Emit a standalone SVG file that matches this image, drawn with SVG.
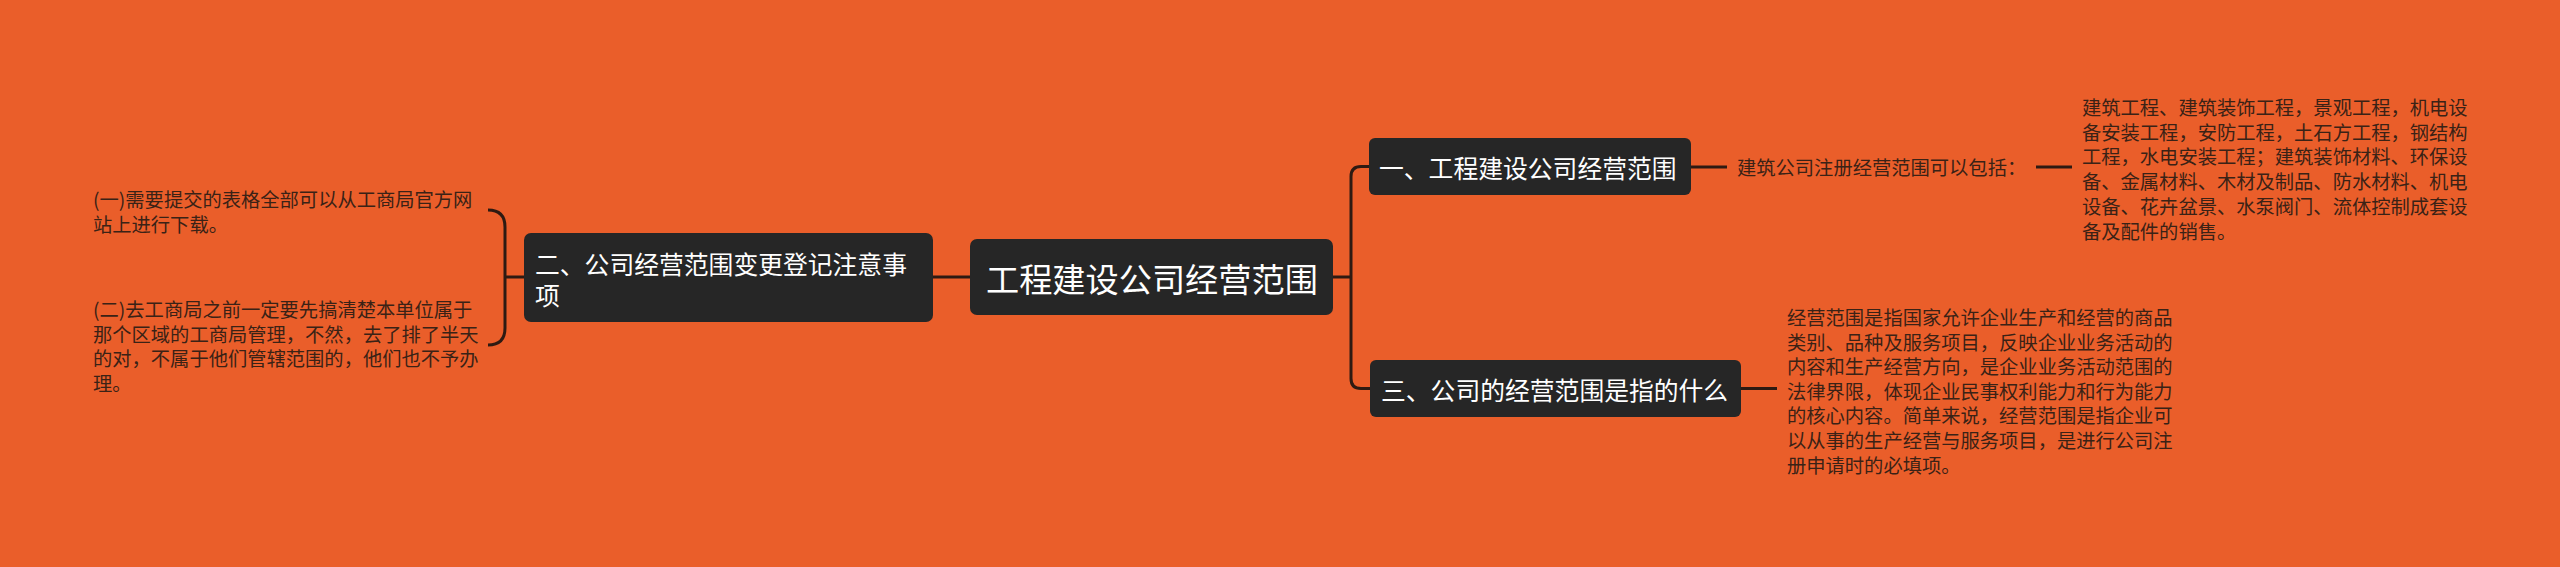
<svg xmlns="http://www.w3.org/2000/svg" width="2560" height="567" viewBox="0 0 2560 567">
<style>
.bg{fill:#EA5E2A}
.node{fill:#262626}
.conn{fill:none;stroke:#2E1A12;stroke-width:3;stroke-linecap:butt}
.root{font-family:"Noto Sans CJK SC","Noto Sans",sans-serif;font-size:33.2px;fill:#FFFFFF}
.br{font-family:"Noto Sans CJK SC","Noto Sans",sans-serif;font-size:24.8px;fill:#FFFFFF}
.leaf{font-family:"Noto Sans CJK SC","Noto Sans",sans-serif;font-size:19.3px;fill:#3A2216}
</style>
<rect class="bg" x="0" y="0" width="2560" height="567"/>
<g id="connectors">
<path class="conn" d="M1333,277 H1351"/>
<path class="conn" d="M1370,166.5 H1361 Q1351,166.5 1351,176.5 V378.5 Q1351,388.5 1361,388.5 H1370"/>
<path class="conn" d="M1691,167 H1727"/>
<path class="conn" d="M2036,167 H2072"/>
<path class="conn" d="M1741,388.5 H1777"/>
<path class="conn" d="M933,277 H970"/>
<path class="conn" d="M505,277 H524"/>
<path class="conn" d="M488,210 Q505,210 505,227 V328 Q505,345 488,345"/>
</g>
<g id="root">
<rect class="node" x="970" y="239" width="363" height="76" rx="7"/>
<text class="root" x="986" y="277.5" dominant-baseline="central">工程建设公司经营范围</text>
</g>
<g id="branch1">
<rect class="node" x="1369" y="138" width="322" height="57" rx="6"/>
<text class="br" x="1379" y="166.5" dominant-baseline="central">一、工程建设公司经营范围</text>
</g>
<g id="branch1-sub">
<text class="leaf" x="1737" y="167" dominant-baseline="central">建筑公司注册经营范围可以包括：</text>
</g>
<g id="branch1-leaf">
<text class="leaf" dominant-baseline="central">
<tspan x="2082" y="107">建筑工程、建筑装饰工程，景观工程，机电设</tspan>
<tspan x="2082" y="131.7">备安装工程，安防工程，土石方工程，钢结构</tspan>
<tspan x="2082" y="156.4">工程，水电安装工程；建筑装饰材料、环保设</tspan>
<tspan x="2082" y="181.1">备、金属材料、木材及制品、防水材料、机电</tspan>
<tspan x="2082" y="205.8">设备、花卉盆景、水泵阀门、流体控制成套设</tspan>
<tspan x="2082" y="230.5">备及配件的销售。</tspan>
</text>
</g>
<g id="branch3">
<rect class="node" x="1370" y="360" width="371" height="57" rx="6"/>
<text class="br" x="1381" y="388.5" dominant-baseline="central">三、公司的经营范围是指的什么</text>
</g>
<g id="branch3-leaf">
<text class="leaf" dominant-baseline="central">
<tspan x="1787" y="317">经营范围是指国家允许企业生产和经营的商品</tspan>
<tspan x="1787" y="341.6">类别、品种及服务项目，反映企业业务活动的</tspan>
<tspan x="1787" y="366.2">内容和生产经营方向，是企业业务活动范围的</tspan>
<tspan x="1787" y="390.8">法律界限，体现企业民事权利能力和行为能力</tspan>
<tspan x="1787" y="415.4">的核心内容。简单来说，经营范围是指企业可</tspan>
<tspan x="1787" y="440">以从事的生产经营与服务项目，是进行公司注</tspan>
<tspan x="1787" y="464.6">册申请时的必填项。</tspan>
</text>
</g>
<g id="branch2">
<rect class="node" x="524" y="233" width="409" height="89" rx="7"/>
<text class="br" dominant-baseline="central">
<tspan x="535" y="263">二、公司经营范围变更登记注意事</tspan>
<tspan x="535" y="294">项</tspan>
</text>
</g>
<g id="branch2-leaf1">
<text class="leaf" dominant-baseline="central">
<tspan x="93" y="199">(一)需要提交的表格全部可以从工商局官方网</tspan>
<tspan x="93" y="223.7">站上进行下载。</tspan>
</text>
</g>
<g id="branch2-leaf2">
<text class="leaf" dominant-baseline="central">
<tspan x="93" y="309">(二)去工商局之前一定要先搞清楚本单位属于</tspan>
<tspan x="93" y="333.7">那个区域的工商局管理，不然，去了排了半天</tspan>
<tspan x="93" y="358.4">的对，不属于他们管辖范围的，他们也不予办</tspan>
<tspan x="93" y="383.1">理。</tspan>
</text>
</g>
</svg>
